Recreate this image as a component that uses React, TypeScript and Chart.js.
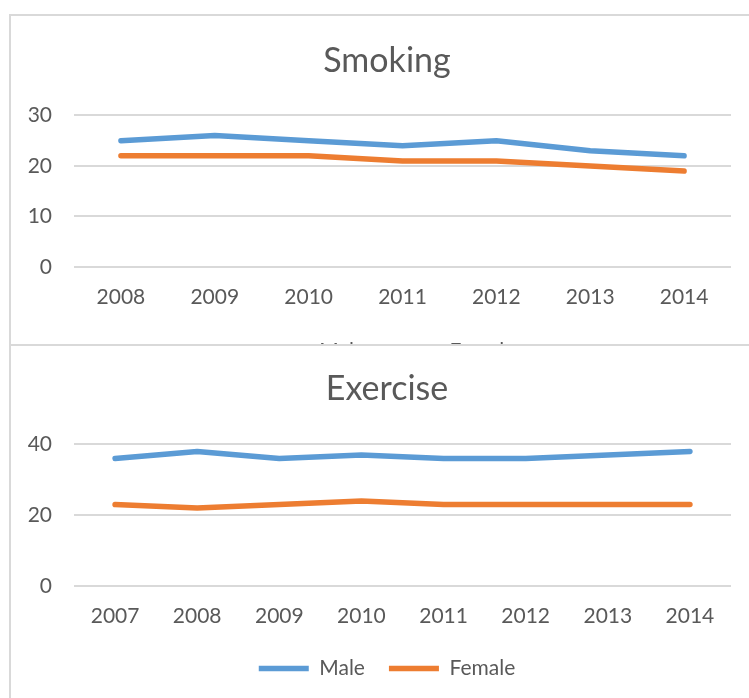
import React, { useEffect, useRef } from 'react';
import { Chart, registerables } from 'chart.js';

Chart.register(...registerables);

// ---- data ----
const smokingYears = ['2008', '2009', '2010', '2011', '2012', '2013', '2014'];
const smokingMale = [25, 26, 25, 24, 25, 23, 22];
const smokingFemale = [22, 22, 22, 21, 21, 20, 19];

const exerciseYears = ['2007', '2008', '2009', '2010', '2011', '2012', '2013', '2014'];
const exerciseMale = [36, 38, 36, 37, 36, 36, 37, 38];
const exerciseFemale = [23, 22, 23, 24, 23, 23, 23, 23];

const seriesNames = ['Male', 'Female'];
const smokingTicks = { min: 0, max: 30, step: 10 };
const exerciseTicks = { min: 0, max: 40, step: 20 };

// ---- styles ----
const FONT = 'Lato, "Open Sans", sans-serif';
const TEXT = '#595959';
const GRID = '#d9d9d9';
const BLUE = '#5b9bd5';
const ORANGE = '#ed7d31';
const CANVAS_W = 752;

type Opts = {
  title: string;
  labels: string[];
  male: number[];
  female: number[];
  ticks: { min: number; max: number; step: number };
  titlePad: { top: number; bottom: number };
  xHeight: number;
  padBottom: number;
};

function buildConfig(o: Opts): any {
  const ds = (label: string, data: number[], color: string) => ({
    label,
    data,
    borderColor: color,
    backgroundColor: color,
    borderWidth: 5.5,
    borderCapStyle: 'round',
    borderJoinStyle: 'round',
    pointStyle: 'line',
    pointRadius: 0,
    pointHoverRadius: 0,
    tension: 0,
    fill: false,
    yAxisID: 'y',
  });
  return {
    type: 'line',
    data: {
      labels: o.labels,
      datasets: [ds(seriesNames[0], o.male, BLUE), ds(seriesNames[1], o.female, ORANGE)],
    },
    options: {
      animation: false,
      responsive: false,
      maintainAspectRatio: false,
      events: [],
      layout: { padding: { left: 22, right: 0, top: 0, bottom: o.padBottom } },
      plugins: {
        title: {
          display: true,
          text: o.title,
          color: TEXT,
          font: { family: FONT, size: 34, weight: 'normal', lineHeight: 1.2 },
          padding: o.titlePad,
        },
        legend: {
          display: true,
          position: 'bottom',
          labels: {
            color: TEXT,
            font: { family: FONT, size: 21 },
            usePointStyle: true,
            pointStyleWidth: 50,
            boxHeight: 6,
            padding: 24,
          },
        },
        tooltip: { enabled: false },
      },
      scales: {
        x: {
          offset: true,
          grid: { display: false, drawTicks: false },
          border: { display: false },
          ticks: { color: TEXT, font: { family: FONT, size: 21, lineHeight: 1.2 }, padding: 18, maxRotation: 0 },
          afterFit: (s: any) => {
            s.height = o.xHeight;
          },
        },
        y: {
          position: 'left',
          min: o.ticks.min,
          max: o.ticks.max,
          grid: { color: GRID, lineWidth: 2, drawTicks: false },
          border: { display: false },
          ticks: {
            stepSize: o.ticks.step,
            color: TEXT,
            font: { family: FONT, size: 21, lineHeight: 1.2 },
            padding: 22,
          },
          afterFit: (s: any) => {
            s.width = 52;
          },
        },
        yR: {
          type: 'linear',
          position: 'right',
          display: true,
          grid: { display: false, drawTicks: false },
          border: { display: false },
          ticks: { display: false },
          afterFit: (s: any) => {
            s.width = CANVAS_W - 731;
          },
        },
      },
    },
  };
}

function LineChart({ opts, height }: { opts: Opts; height: number }) {
  const ref = useRef<HTMLCanvasElement | null>(null);
  useEffect(() => {
    if (!ref.current) return;
    const chart = new Chart(ref.current, buildConfig(opts));
    return () => chart.destroy();
  }, []);
  return <canvas ref={ref} width={CANVAS_W} height={height} style={{ display: 'block', width: CANVAS_W, height }} />;
}

export default function App() {
  const border = `2px solid ${GRID}`;
  return (
    <div style={{ position: 'fixed', left: 0, top: 0, width: 749, height: 698, overflow: 'hidden', background: '#fff' }}>
      {/* top chart frame */}
      <div style={{ position: 'absolute', left: 9, top: 14, width: 800, height: 400, borderTop: border, borderLeft: border, zIndex: 0 }} />
      <div style={{ position: 'absolute', left: 0, top: 0, zIndex: 1 }}>
        <LineChart
          height={372}
          opts={{
            title: 'Smoking',
            labels: smokingYears,
            male: smokingMale,
            female: smokingFemale,
            ticks: smokingTicks,
            titlePad: { top: 41, bottom: 33.6 },
            xHeight: 50,
            padBottom: 0,
          }}
        />
      </div>
      {/* bottom chart frame, covers the top chart's legend */}
      <div style={{ position: 'absolute', left: 9, top: 344, width: 800, height: 400, borderTop: border, borderLeft: border, background: '#fff', zIndex: 2 }} />
      <div style={{ position: 'absolute', left: 0, top: 344, zIndex: 3 }}>
        <LineChart
          height={354}
          opts={{
            title: 'Exercise',
            labels: exerciseYears,
            male: exerciseMale,
            female: exerciseFemale,
            ticks: exerciseTicks,
            titlePad: { top: 25, bottom: 34.6 },
            xHeight: 48,
            padBottom: 9,
          }}
        />
      </div>
    </div>
  );
}
